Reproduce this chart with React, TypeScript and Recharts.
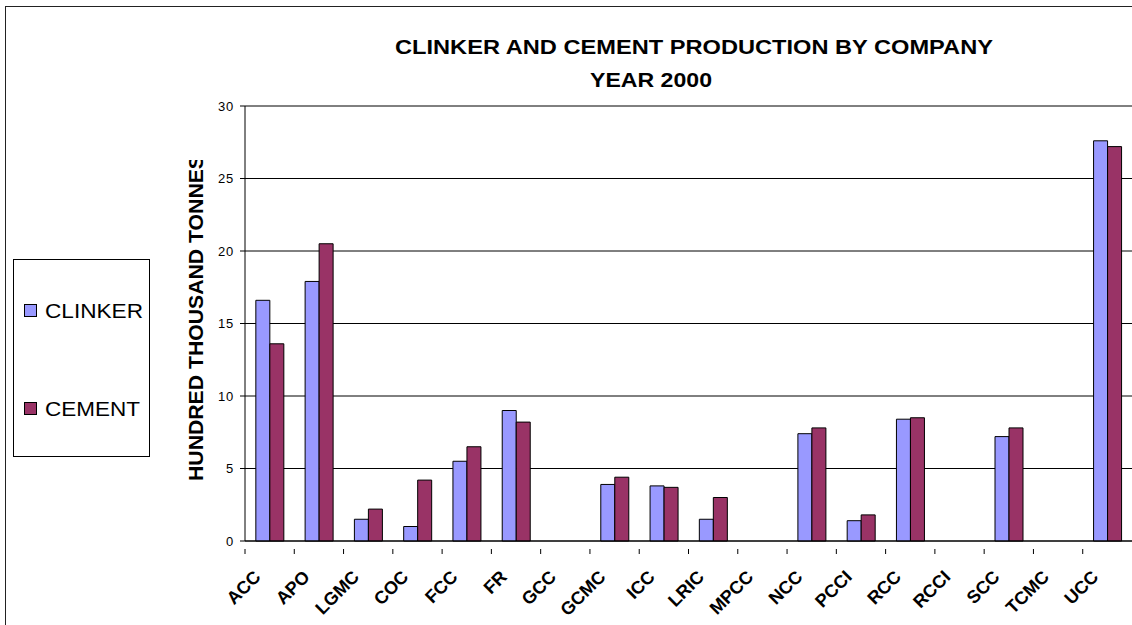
import React from 'react';
import { BarChart, Bar, XAxis, YAxis, CartesianGrid } from 'recharts';

const companies = ['ACC', 'APO', 'LGMC', 'COC', 'FCC', 'FR', 'GCC', 'GCMC', 'ICC', 'LRIC', 'MPCC', 'NCC', 'PCCI', 'RCC', 'RCCI', 'SCC', 'TCMC', 'UCC'];
const clinker = [16.6, 17.9, 1.5, 1.0, 5.5, 9.0, 0, 3.9, 3.8, 1.5, 0, 7.4, 1.4, 8.4, 0, 7.2, 0, 27.6];
const cement = [13.6, 20.5, 2.2, 4.2, 6.5, 8.2, 0, 4.4, 3.7, 3.0, 0, 7.8, 1.8, 8.5, 0, 7.8, 0, 27.2];
const yTicks = [0, 5, 10, 15, 20, 25, 30];

const W = 1132;
const H = 625;
const FONT = '"Liberation Sans", Arial, sans-serif';
const CLINKER_COLOR = '#9999FF';
const CEMENT_COLOR = '#993366';

const margin = { top: 106, right: 0, bottom: 54, left: 185 };
const yAxisWidth = 60;
const xAxisHeight = 30;
const plotWidth = W - margin.left - yAxisWidth - margin.right;
const band = plotWidth / companies.length;

const data = companies.map((name, i) => ({ name, clinker: clinker[i], cement: cement[i] }));

// x ticks: Excel style marks between categories, labels at 45 degrees
const XTick = (props: any) => {
  const { x, y, payload } = props;
  const tx = x - 8;
  const ty = y + 29;
  return (
    <g>
      <line x1={x - band / 2} y1={y} x2={x - band / 2} y2={y + 5} stroke="#000" />
      <text
        x={tx}
        y={ty}
        transform={`rotate(-45, ${tx}, ${ty})`}
        textAnchor="end"
        fontFamily={FONT}
        fontWeight="bold"
        fontSize={18}
        fill="#000"
      >
        {payload.value}
      </text>
    </g>
  );
};

const YTick = (props: any) => {
  const { x, y, payload } = props;
  return (
    <text x={x - 4} y={y} dy="0.35em" textAnchor="end" fontFamily={FONT} fontSize={13} letterSpacing={0.8} fill="#000">
      {payload.value}
    </text>
  );
};

export default function App() {
  return (
    <div style={{ position: 'absolute', left: 0, top: 0, width: W, height: H, overflow: 'hidden', background: '#fff' }}>
      <div style={{ position: 'absolute', left: 5, top: 6, width: W + 20, height: H + 20, border: '1.5px solid #222' }} />
      <div style={{ position: 'absolute', left: 0, top: 0 }}>
        <BarChart width={W} height={H} data={data} margin={margin} barCategoryGap="22%" barGap={0}>
          <CartesianGrid vertical={false} stroke="#000" />
          <XAxis
            dataKey="name"
            height={xAxisHeight}
            axisLine={{ stroke: '#000' }}
            tickLine={false}
            tick={<XTick />}
            interval={0}
          />
          <YAxis
            width={yAxisWidth}
            domain={[0, 30]}
            ticks={yTicks}
            axisLine={{ stroke: '#000' }}
            tickLine={{ stroke: '#000' }}
            tickSize={5}
            tick={<YTick />}
          />
          <Bar dataKey="clinker" fill={CLINKER_COLOR} stroke="#000" strokeWidth={1} isAnimationActive={false} />
          <Bar dataKey="cement" fill={CEMENT_COLOR} stroke="#000" strokeWidth={1} isAnimationActive={false} />
        </BarChart>
      </div>
      <svg width={W} height={H} style={{ position: 'absolute', left: 0, top: 0, pointerEvents: 'none' }}>
        <defs>
          <clipPath id="ylabelClip">
            <rect x={170} y={160} width={50} height={340} />
          </clipPath>
        </defs>
        <g fontFamily={FONT} fontWeight="bold" fill="#000">
          <text x={395} y={54} fontSize={20} textLength={598} lengthAdjust="spacingAndGlyphs">
            CLINKER AND CEMENT PRODUCTION BY COMPANY
          </text>
          <text x={590} y={86.5} fontSize={20} textLength={122} lengthAdjust="spacingAndGlyphs">
            YEAR 2000
          </text>
          <g clipPath="url(#ylabelClip)">
            <text x={203} y={481} fontSize={21} transform="rotate(-90, 203, 481)" textLength={326} lengthAdjust="spacingAndGlyphs">
              HUNDRED THOUSAND TONNES
            </text>
          </g>
        </g>
        <rect x={13.5} y={259.5} width={136} height={197} fill="none" stroke="#000" />
        <rect x={24.5} y={304.5} width={12} height={12} fill={CLINKER_COLOR} stroke="#000" />
        <rect x={24.5} y={402.5} width={12} height={12} fill={CEMENT_COLOR} stroke="#000" />
        <g fontFamily={FONT} fontSize={21} fill="#000">
          <text x={45} y={318} textLength={98} lengthAdjust="spacingAndGlyphs">CLINKER</text>
          <text x={45} y={416} textLength={95} lengthAdjust="spacingAndGlyphs">CEMENT</text>
        </g>
      </svg>
    </div>
  );
}
